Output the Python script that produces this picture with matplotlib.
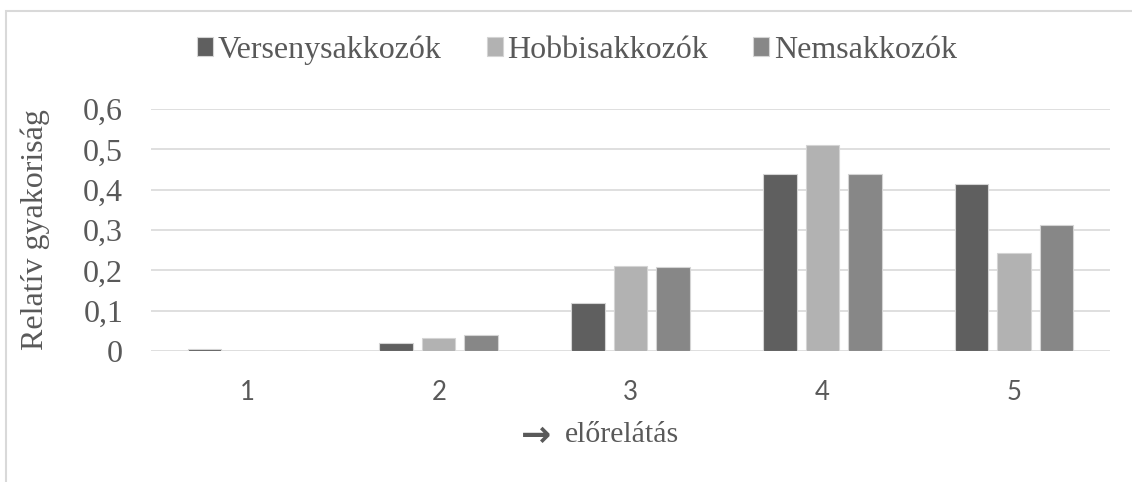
import matplotlib
matplotlib.use("Agg")
import matplotlib.pyplot as plt
import numpy as np
from matplotlib.patches import Rectangle

categories = ["1", "2", "3", "4", "5"]
series_names = ["Versenysakkozók", "Hobbisakkozók", "Nemsakkozók"]
verseny = [0.004, 0.021, 0.120, 0.440, 0.413]
hobbi = [0.0, 0.032, 0.211, 0.511, 0.244]
nem = [0.0, 0.040, 0.208, 0.438, 0.312]
colors = ["#5f5f5f", "#b2b2b2", "#878787"]
yticks = [0, 0.1, 0.2, 0.3, 0.4, 0.5, 0.6]
ytick_labels = ["0", "0,1", "0,2", "0,3", "0,4", "0,5", "0,6"]

W, H = 1132, 482
fig = plt.figure(figsize=(W / 100, H / 100), dpi=100)
ax = fig.add_axes([151 / W, 1 - 351 / H, (1110 - 151) / W, (351 - 109) / H])

serif = ["Liberation Serif", "DejaVu Serif"]
txtc = "#595959"

x = np.arange(len(categories))
bw = 0.175
step = 0.222
handles = []
for i, (vals, c, name) in enumerate(zip([verseny, hobbi, nem], colors, series_names)):
    b = ax.bar(x + (i - 1) * step, vals, width=bw, color=c, edgecolor="#d4d4d4",
               linewidth=0.8, label=name, zorder=3)
    handles.append(b)

ax.set_xlim(-0.5, len(categories) - 0.5)
ax.set_ylim(0, 0.6)
ax.set_yticks(yticks)
ax.set_yticklabels(ytick_labels, family=serif, fontsize=23, color=txtc)
ax.set_xticks(x)
ax.set_xticklabels(categories, family=["Lato", "DejaVu Sans"], fontsize=18.5, color=txtc)
ax.tick_params(axis="y", length=0, pad=20)
ax.tick_params(axis="x", length=0, pad=21)
ax.grid(axis="y", color="#d9d9d9", linewidth=1.2, zorder=0)
for s in ax.spines.values():
    s.set_visible(False)

ax.set_ylabel("Relatív gyakoriság", family=serif, fontsize=23, color=txtc)
ax.yaxis.set_label_coords((50 - 151) / (1110 - 151), 0.5)

# x axis title: bold arrow + serif text
fig.text(536 / W, 1 - 436 / H, "→", family=["DejaVu Sans"], fontweight="bold",
         fontsize=26, color=txtc, ha="center", va="center")
fig.text(622 / W, 1 - 435 / H, "előrelátás", family=serif, fontsize=21.5,
         color=txtc, ha="center", va="center")

leg = fig.legend(handles=handles, labels=series_names, loc="center",
                 bbox_to_anchor=(577 / W, 1 - 50 / H), ncol=3, frameon=False,
                 prop={"family": serif, "size": 23}, handlelength=0.5,
                 handleheight=0.5, handletextpad=0.15, columnspacing=1.4)
for t in leg.get_texts():
    t.set_color(txtc)

# chart area border
fig.patches.append(Rectangle((6 / W, -0.2), 1.2, 1.2 - 11 / H,
                             transform=fig.transFigure, fill=False,
                             edgecolor="#d9d9d9", linewidth=1.5))

fig.savefig("out.png", dpi=100)
